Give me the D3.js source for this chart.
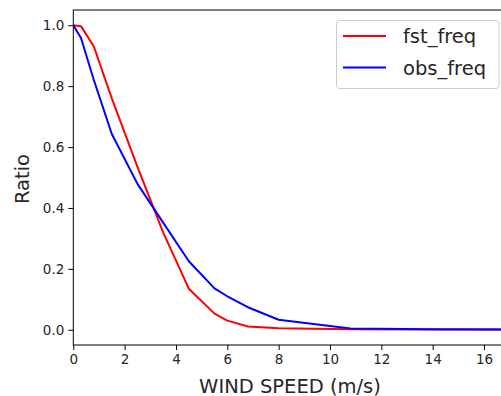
<!DOCTYPE html>
<html>
<head>
<meta charset="utf-8">
<script src="https://cdn.jsdelivr.net/npm/d3@7"></script>
<style>
  html, body { margin: 0; padding: 0; background: #fff; }
  svg { display: block; }
  text { font-family: "DejaVu Sans", sans-serif; fill: #262626; }
</style>
</head>
<body>
<svg id="chart" width="501" height="396"></svg>
<script>
// Data
const windSpeed = [0, 0.3, 0.8, 1.5, 2.5, 3.5, 4.5, 5.5, 6.0, 6.8, 8.0, 10.8, 13.9, 17.2, 20.8];
const fstFreq   = [1.0, 0.997, 0.93, 0.76, 0.535, 0.32, 0.135, 0.053, 0.030, 0.011, 0.005, 0.002, 0.001, 0.001, 0.0];
const obsFreq   = [1.0, 0.958, 0.82, 0.643, 0.479, 0.352, 0.225, 0.136, 0.110, 0.074, 0.033, 0.004, 0.002, 0.001, 0.0];
const seriesNames = ["fst_freq", "obs_freq"];
const seriesColors = ["#ff0000", "#0000ff"];
const xTicks = [0, 2, 4, 6, 8, 10, 12, 14, 16];
const yTicks = [0.0, 0.2, 0.4, 0.6, 0.8, 1.0];
const xLabel = "WIND SPEED (m/s)";
const yLabel = "Ratio";

(function () {
const svg = d3.select("#chart");
const mLeft = 73.3, mTop = 10, mBottom = 345, mRight = 73.3 + 20 * 25.67;

const x = d3.scaleLinear().domain([0, 20]).range([mLeft, mRight]);
const y = d3.scaleLinear().domain([-0.05, 1.05]).range([mBottom, mTop]);

svg.append("defs").append("clipPath").attr("id", "clip")
  .append("rect").attr("x", mLeft).attr("y", mTop).attr("width", mRight - mLeft).attr("height", mBottom - mTop);

// Lines
const series = [fstFreq, obsFreq];
const line = d3.line().x((d, i) => x(windSpeed[i])).y(d => y(d));
const g = svg.append("g").attr("clip-path", "url(#clip)");
series.forEach((s, k) => {
  g.append("path").datum(s)
    .attr("d", line)
    .attr("fill", "none")
    .attr("stroke", seriesColors[k])
    .attr("stroke-width", 2)
    .attr("stroke-linejoin", "round");
});

// Axes
const xAxis = d3.axisBottom(x).tickValues(xTicks).tickFormat(d3.format("d")).tickSizeOuter(0).tickSize(5).tickPadding(4);
const yAxis = d3.axisLeft(y).tickValues(yTicks).tickFormat(d3.format(".1f")).tickSizeOuter(0).tickSize(5).tickPadding(4);

const gx = svg.append("g").attr("transform", `translate(0,${mBottom})`).call(xAxis);
const gy = svg.append("g").attr("transform", `translate(${mLeft},0)`).call(yAxis);
[gx, gy].forEach(a => {
  a.selectAll("text").style("font-family", "DejaVu Sans").style("font-size", "13.5px").attr("fill", "#262626");
  a.selectAll("line").attr("stroke", "#000").attr("stroke-width", 1);
  a.select(".domain").remove();
});

// Spines
svg.append("rect").attr("x", mLeft).attr("y", mTop).attr("width", mRight - mLeft).attr("height", mBottom - mTop)
  .attr("fill", "none").attr("stroke", "#000").attr("stroke-width", 1);

// Axis labels
svg.append("text").attr("x", 290).attr("y", 392.5).attr("text-anchor", "middle")
  .style("font-size", "19.5px").text(xLabel);
svg.append("text").attr("transform", `translate(29,179) rotate(-90)`)
  .attr("text-anchor", "middle").style("font-size", "19.5px").text(yLabel);

// Legend
const lg = svg.append("g");
lg.append("rect").attr("x", 336.5).attr("y", 20.5).attr("width", 162.5).attr("height", 68).attr("rx", 3)
  .attr("fill", "#fff").attr("fill-opacity", 0.8).attr("stroke", "#cccccc").attr("stroke-width", 1);
const ly = [36, 67.5];
seriesNames.forEach((n, k) => {
  lg.append("line").attr("x1", 343).attr("x2", 386).attr("y1", ly[k]).attr("y2", ly[k])
    .attr("stroke", seriesColors[k]).attr("stroke-width", 2);
  lg.append("text").attr("x", 403).attr("y", ly[k]).attr("dy", "0.36em")
    .style("font-size", "19.5px").text(n);
});
})();
</script>
</body>
</html>
